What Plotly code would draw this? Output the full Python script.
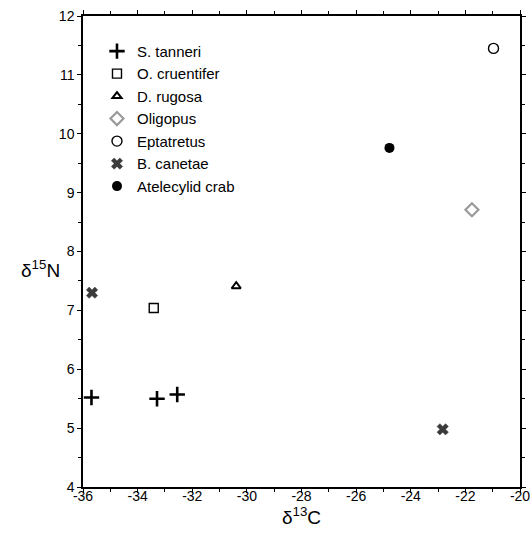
import plotly.graph_objects as go

species = ["S. tanneri", "O. cruentifer", "D. rugosa", "Oligopus",
           "Eptatretus", "B. canetae", "Atelecylid crab"]
d13C = {
    "S. tanneri": [-35.69, -33.29, -32.55],
    "O. cruentifer": [-33.41],
    "D. rugosa": [-30.39],
    "Oligopus": [-21.76],
    "Eptatretus": [-20.97],
    "B. canetae": [-35.67, -22.83],
    "Atelecylid crab": [-24.78],
}
d15N = {
    "S. tanneri": [5.52, 5.50, 5.57],
    "O. cruentifer": [7.04],
    "D. rugosa": [7.41],
    "Oligopus": [8.71],
    "Eptatretus": [11.45],
    "B. canetae": [7.30, 4.98],
    "Atelecylid crab": [9.76],
}
x_ticks = [-36, -34, -32, -30, -28, -26, -24, -22, -20]
y_ticks = [4, 5, 6, 7, 8, 9, 10, 11, 12]

FONT = "Liberation Sans, Arial, sans-serif"

styles = {
    "S. tanneri": dict(symbol="cross-thin-open", size=11, color="black", line=dict(color="black", width=2.6)),
    "O. cruentifer": dict(symbol="square-open", size=9, color="black", line=dict(color="black", width=1.4)),
    "D. rugosa": dict(symbol="triangle-up-open", size=8, color="black", line=dict(color="black", width=2)),
    "Oligopus": dict(symbol="diamond-open", size=10, color="#9a9a9a", line=dict(color="#9a9a9a", width=2.2)),
    "Eptatretus": dict(symbol="circle-open", size=10, color="black", line=dict(color="black", width=1.4)),
    "B. canetae": dict(symbol="x", size=10, color="#3a3a3a", line=dict(color="#3a3a3a", width=0.5)),
    "Atelecylid crab": dict(symbol="circle", size=10, color="black", line=dict(color="black", width=0)),
}

fig = go.Figure()
for s in species:
    fig.add_trace(go.Scatter(x=d13C[s], y=d15N[s], mode="markers", name=s,
                             marker=styles[s]))

axis_common = dict(
    showgrid=False, zeroline=False, showline=True, linecolor="black", linewidth=1.5,
    mirror="ticks", ticks="outside", ticklen=4, tickwidth=1, tickcolor="black",
    automargin=False, ticklabeloverflow="allow",
    tickfont=dict(family=FONT, size=14, color="black"),
)
fig.update_xaxes(range=[-36, -20], tickvals=x_ticks, ticktext=[str(v) for v in x_ticks],
                 minor=dict(dtick=1, ticks="outside", ticklen=3, tickcolor="black"),
                 ticklabelstandoff=-9,
                 title=dict(text="δ<sup>13</sup>C", standoff=2,
                            font=dict(family=FONT, size=19, color="black")),
                 **axis_common)
fig.update_yaxes(range=[4, 12], tickvals=y_ticks, ticktext=[str(v) for v in y_ticks],
                 minor=dict(dtick=0.5, ticks="outside", ticklen=3, tickcolor="black"),
                 **axis_common)

fig.add_annotation(text="δ<sup>15</sup>N", xref="paper", yref="paper", x=-0.048, y=0.463,
                   xanchor="right", yanchor="middle", showarrow=False,
                   font=dict(family=FONT, size=19, color="black"))

fig.update_layout(
    width=530, height=537,
    margin=dict(l=83, r=10, t=16, b=50),
    paper_bgcolor="white", plot_bgcolor="white",
    showlegend=True,
    legend=dict(x=0.032, y=0.96, xanchor="left", yanchor="top",
                bgcolor="rgba(0,0,0,0)", itemwidth=30,
                font=dict(family=FONT, size=15, color="black")),
)

fig.write_html("out.html", config={"displayModeBar": False},
               post_script="document.body.style.margin='0';")
